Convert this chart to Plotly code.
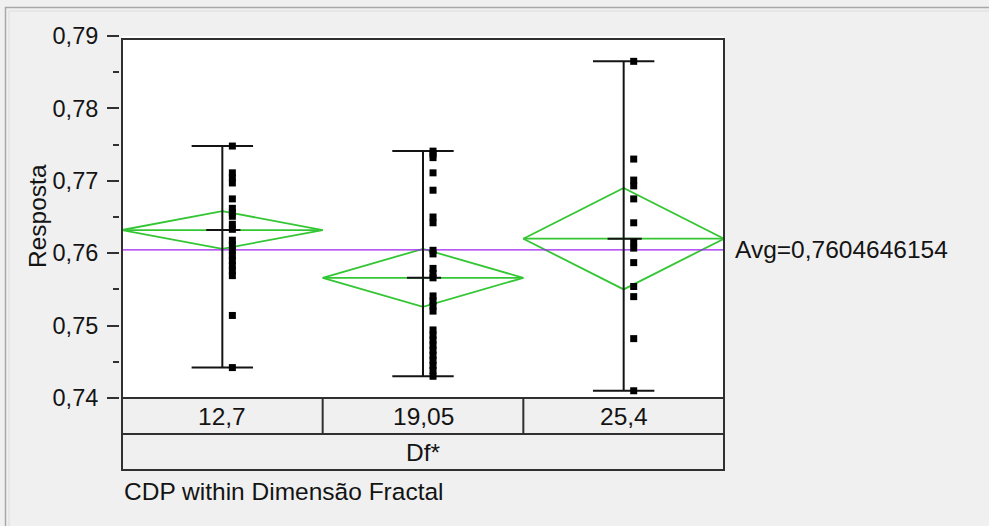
import plotly.graph_objects as go

# Levels of the factor "Df*" and the observed responses in each level
levels = ["12,7", "19,05", "25,4"]
resp_127 = [0.7748, 0.7711, 0.7704, 0.7697, 0.7675, 0.7662, 0.7656, 0.7651,
            0.7640, 0.7633, 0.7618, 0.7611, 0.7604, 0.7597, 0.7590, 0.7583,
            0.7576, 0.7569, 0.7514, 0.7442]
resp_1905 = [0.7741, 0.7737, 0.7732, 0.7711, 0.7687, 0.7650, 0.7642, 0.7604,
             0.7599, 0.7579, 0.7572, 0.7566, 0.7541, 0.7534, 0.7527, 0.7520,
             0.7494, 0.7487, 0.7480, 0.7473, 0.7466, 0.7459, 0.7452, 0.7445,
             0.7438, 0.7430]
resp_254 = [0.7865, 0.7730, 0.7701, 0.7693, 0.7675, 0.7642, 0.7615, 0.7607,
            0.7587, 0.7554, 0.7540, 0.7482, 0.7410]

# Group means and half-widths of the 95% mean diamonds
group_means = [0.7632, 0.7566, 0.7620]
ci_half = [0.0026, 0.0040, 0.0070]
grand_mean = 0.7604646154

y_ticks = [0.74, 0.75, 0.76, 0.77, 0.78, 0.79]

groups = [resp_127, resp_1905, resp_254]

# ---- geometry of the page (pixels) ----
W, H = 989, 526
ML, MR, MT, MB = 119, 265, 36, 128
PW = W - ML - MR
PH = H - MT - MB
GAP = 3  # gap between the tick marks and the frame


def px_x(p):
    return (p - ML) / PW


def px_y(p):
    return (H - MB - p) / PH


BLACK = "#141414"
GREEN = "#33c633"
PURPLE = "#a020f0"
FONT = "Liberation Sans, Arial, sans-serif"
TXT = 24.5

fig = go.Figure()

# mean diamonds and mean lines
for g, (m, h) in enumerate(zip(group_means, ci_half)):
    fig.add_trace(go.Scatter(
        x=[g - 0.5, g, g + 0.5, g, g - 0.5, None, g - 0.5, g + 0.5],
        y=[m, m + h, m, m - h, m, None, m, m],
        mode="lines", line=dict(color=GREEN, width=1.8),
        hoverinfo="skip", showlegend=False))

# overall average line
fig.add_trace(go.Scatter(
    x=[-0.5, 2.5], y=[grand_mean, grand_mean], mode="lines",
    line=dict(color=PURPLE, width=1.4), hoverinfo="skip", showlegend=False))

# range bars (min-max) with caps and mean tick
for g, vals in enumerate(groups):
    lo, hi = min(vals), max(vals)
    m = group_means[g]
    cap = 0.153
    fig.add_trace(go.Scatter(
        x=[g, g, None, g - cap, g + cap, None, g - cap, g + cap, None, g - 0.08, g + 0.09],
        y=[lo, hi, None, hi, hi, None, lo, lo, None, m, m],
        mode="lines", line=dict(color=BLACK, width=2),
        hoverinfo="skip", showlegend=False))

# observations
for g, vals in enumerate(groups):
    fig.add_trace(go.Scatter(
        x=[g + 0.05] * len(vals), y=vals, mode="markers",
        marker=dict(symbol="square", size=7, color="black", line=dict(width=0)),
        showlegend=False, name=levels[g]))

shapes = []
# window frame
shapes.append(dict(type="rect", xref="paper", yref="paper",
                   x0=px_x(5.5), x1=px_x(W + 20), y0=px_y(7.5), y1=px_y(H + 20),
                   line=dict(color="#a8a8a8", width=1.5), layer="below"))
shapes.append(dict(type="rect", xref="paper", yref="paper",
                   x0=px_x(9), x1=px_x(W + 20), y0=px_y(11), y1=px_y(H + 20),
                   line=dict(color="#dcdcdc", width=1), layer="below"))
# plot frame
shapes.append(dict(type="rect", xref="paper", yref="paper",
                   x0=GAP / PW, x1=1, y0=0, y1=px_y(39),
                   line=dict(color="#303030", width=2)))
# category rows under the plot
row1 = px_y(434)
row2 = px_y(470)
shapes.append(dict(type="rect", xref="paper", yref="paper",
                   x0=GAP / PW, x1=1, y0=row1, y1=0,
                   line=dict(color="#303030", width=2)))
shapes.append(dict(type="rect", xref="paper", yref="paper",
                   x0=GAP / PW, x1=1, y0=row2, y1=row1,
                   line=dict(color="#303030", width=2)))
for b in [0.5, 1.5]:
    shapes.append(dict(type="line", xref="x", yref="paper",
                       x0=b, x1=b, y0=row1, y1=0,
                       line=dict(color="#303030", width=2)))

annotations = []
for g, lab in enumerate(levels):
    annotations.append(dict(x=g, y=row1 / 2, xref="x", yref="paper", text=lab,
                            showarrow=False, font=dict(size=TXT, color=BLACK, family=FONT),
                            xanchor="center", yanchor="middle"))
annotations.append(dict(x=1, y=(row1 + row2) / 2, xref="x", yref="paper", text="Df*",
                        showarrow=False, font=dict(size=TXT, color=BLACK, family=FONT),
                        xanchor="center", yanchor="middle"))
annotations.append(dict(x=GAP / PW, y=px_y(492), xref="paper", yref="paper",
                        text="CDP within Dimensão Fractal", showarrow=False,
                        font=dict(size=TXT, color=BLACK, family=FONT),
                        xanchor="left", yanchor="middle"))
annotations.append(dict(x=1, y=grand_mean, xref="paper", yref="y",
                        text="Avg=" + f"{grand_mean:.10f}".replace(".", ","),
                        showarrow=False, xshift=9,
                        font=dict(size=TXT, color=BLACK, family=FONT),
                        xanchor="left", yanchor="middle"))
annotations.append(dict(x=px_x(38), y=px_y(216), xref="paper", yref="paper",
                        text="Resposta", textangle=-90, showarrow=False,
                        font=dict(size=TXT, color=BLACK, family=FONT),
                        xanchor="center", yanchor="middle"))

fig.update_layout(
    width=W, height=H,
    margin=dict(l=ML, r=MR, t=MT, b=MB, pad=0),
    paper_bgcolor="#f0f0f0", plot_bgcolor="white",
    separators=",.",
    font=dict(family=FONT, size=TXT, color=BLACK),
    xaxis=dict(domain=[GAP / PW, 1], range=[-0.5, 2.5], showticklabels=False,
               ticks="", showgrid=False, zeroline=False, showline=False),
    yaxis=dict(range=[0.74, 0.79], anchor="free", position=0,
               tickvals=y_ticks, tickformat=".2f", ticks="outside",
               ticklen=12, tickwidth=2, tickcolor="#303030",
               ticklabelstandoff=4,
               minor=dict(ticks="outside", ticklen=6, tickwidth=2,
                          tickcolor="#303030", dtick=0.005, showgrid=False),
               showgrid=False, zeroline=False, showline=False,
               tickfont=dict(size=23.5, color=BLACK, family=FONT)),
    shapes=shapes, annotations=annotations,
)

fig.write_html("out.html")
